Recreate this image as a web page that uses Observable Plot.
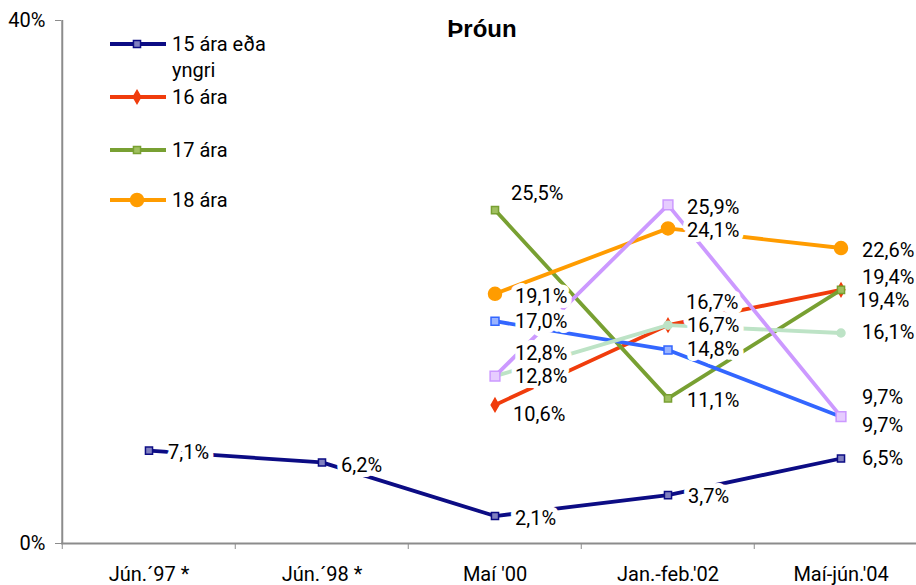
<!DOCTYPE html>
<html>
<head>
<meta charset="utf-8">
<script src="https://cdn.jsdelivr.net/npm/d3@7"></script>
<script src="https://cdn.jsdelivr.net/npm/@observablehq/plot@0.6"></script>
<style>
  html, body { margin: 0; padding: 0; background: white; overflow: hidden; }
  #wrap { position: relative; width: 916px; height: 585px; }
  #legend { position: absolute; left: 0; top: 0; }
</style>
</head>
<body>
<div id="wrap"></div>
<script>
// ---- data ----
const categories = ["Jún.´97 *", "Jún.´98 *", "Maí '00", "Jan.-feb.'02", "Maí-jún.'04"];
const seriesNames = ["15 ára eða yngri", "16 ára", "17 ára", "18 ára", "Röð 5", "Röð 6", "Röð 7"];
const values15 = [7.1, 6.2, 2.1, 3.7, 6.5];
const values16 = [null, null, 10.6, 16.7, 19.4];
const values17 = [null, null, 25.5, 11.1, 19.4];
const values18 = [null, null, 19.1, 24.1, 22.6];
const valuesR5 = [null, null, 17.0, 14.8, 9.7];
const valuesR6 = [null, null, 12.8, 16.7, 16.1];
const valuesR7 = [null, null, 12.8, 25.9, 9.7];
const yTicks = [0, 40];
const legendSeries = [0, 1, 2, 3];

// ---- styles / layout ----
const FONT = "Roboto, 'Liberation Sans', sans-serif";
const colors = ["#0c0c84", "#f03c0c", "#78a032", "#ff9c00", "#3366ff", "#bde3c6", "#cc99ff"];
const symbols = ["square", "diamond", "square", "circle", "square", "circle", "square"];
const markerR = [4, 4, 4, 6.5, 4.5, 4, 5.5];
const markerFill = ["#8080c0", "#f03c0c", "#a0c060", "#ff9c00", "#99b3ff", "#bde3c6", "#e6ccff"];
// label offsets [dx, dy] in px per series, per point
const labelOffsets = [
  [[19, 2], [19, 3], [20, 3], [20, 1], [21, 0]],
  [null, null, [18, 10], [18, -23], [16, 11]],
  [null, null, [16, -16], [19, 2], [21, -12]],
  [null, null, [20, 3], [19, 2], [21, 3]],
  [null, null, [20, 0], [19, 0], [21, -19]],
  [null, null, [20, -23], [19, 0], [21, 0]],
  [null, null, [20, 0], [19, 3], [21, 9]]
];
const xRange = [61, 928.5];
const bw = (xRange[1] - xRange[0]) / categories.length;

const allValues = [values15, values16, values17, values18, valuesR5, valuesR6, valuesR7];
const rows = [];
allValues.forEach((vals, s) => vals.forEach((v, i) => {
  if (v != null) rows.push({series: s, cat: categories[i], value: v, i});
}));
const fmt = v => v.toFixed(1).replace(".", ",") + "%";

const order = [0, 1, 2, 3, 4, 5, 6];
const lineMarks = [];
for (const s of order) {
  const data = rows.filter(r => r.series === s);
  lineMarks.push(Plot.line(data, {x: "cat", y: "value", stroke: colors[s], strokeWidth: 3.8, strokeLinejoin: "miter", strokeLinecap: "butt"}));
  lineMarks.push(Plot.dot(data, {x: "cat", y: "value", symbol: symbols[s], r: markerR[s], fill: markerFill[s], stroke: colors[s], strokeWidth: 1.5}));
}
const labelMarks = rows.map(r => {
  const [dx, dy] = labelOffsets[r.series][r.i];
  return Plot.text([r], {x: "cat", y: "value", text: d => fmt(d.value), dx, dy, textAnchor: "start", lineAnchor: "middle",
    fill: "black", stroke: "white", strokeWidth: 10, strokeLinejoin: "round", paintOrder: "stroke", fontSize: 20});
});

const chart = Plot.plot({
  width: 916,
  height: 585,
  marginTop: 20,
  marginBottom: 42,
  marginLeft: 61,
  marginRight: 0,
  style: {fontFamily: FONT, fontSize: "20px", color: "black", background: "white"},
  x: {type: "band", domain: categories, range: xRange, padding: 0, label: null},
  y: {domain: [0, 40], label: null},
  marks: [
    Plot.ruleY([0], {stroke: "#8c8c8c", strokeWidth: 2}),
    Plot.ruleX([categories[0]], {x: d => d, y1: 0, y2: 40, dx: -bw / 2, stroke: "#8c8c8c", strokeWidth: 2}),
    Plot.axisY({ticks: yTicks, tickFormat: d => d + "%", tickSize: 6, tickPadding: 10, stroke: "#8c8c8c", fill: "black", fontSize: 20, label: null}),
    Plot.axisX({tickSize: 6, tickFormat: () => "", dx: -bw / 2, stroke: "#8c8c8c", label: null}),
    Plot.axisX({tickSize: 0, tickPadding: 23, fill: "black", fontSize: 20, label: null}),
    ...lineMarks,
    ...labelMarks,
    Plot.text(["Þróun"], {frameAnchor: "top", dx: -7, dy: 9, lineAnchor: "middle", fontWeight: "bold", fontSize: 24,
      fontFamily: "'Liberation Sans', Arial, sans-serif", fill: "black"})
  ]
});
const wrap = document.getElementById("wrap");
wrap.appendChild(chart);

// ---- legend (overlay SVG drawn with d3) ----
const legendRows = [
  {s: 0, lines: ["15 ára eða", "yngri"], y: 44},
  {s: 1, lines: ["16 ára"], y: 97},
  {s: 2, lines: ["17 ára"], y: 150},
  {s: 3, lines: ["18 ára"], y: 200}
];
const lg = d3.select(wrap).append("svg").attr("id", "legend").attr("width", 300).attr("height", 230)
  .style("font-family", FONT).style("font-size", "20px");
const symMap = {square: d3.symbolSquare, diamond: d3.symbolDiamond, circle: d3.symbolCircle};
for (const row of legendRows) {
  const g = lg.append("g");
  g.append("line").attr("x1", 110).attr("x2", 166).attr("y1", row.y).attr("y2", row.y)
    .attr("stroke", colors[row.s]).attr("stroke-width", 3.8);
  const r = markerR[row.s];
  g.append("path").attr("transform", `translate(137,${row.y})`)
    .attr("d", d3.symbol(symMap[symbols[row.s]], Math.PI * r * r)())
    .attr("fill", markerFill[row.s]).attr("stroke", colors[row.s]).attr("stroke-width", 1.5);
  row.lines.forEach((t, k) => {
    g.append("text").attr("x", 172).attr("y", row.y + k * 26).attr("dy", "0.35em").attr("fill", "black").text(t);
  });
}
</script>
</body>
</html>
